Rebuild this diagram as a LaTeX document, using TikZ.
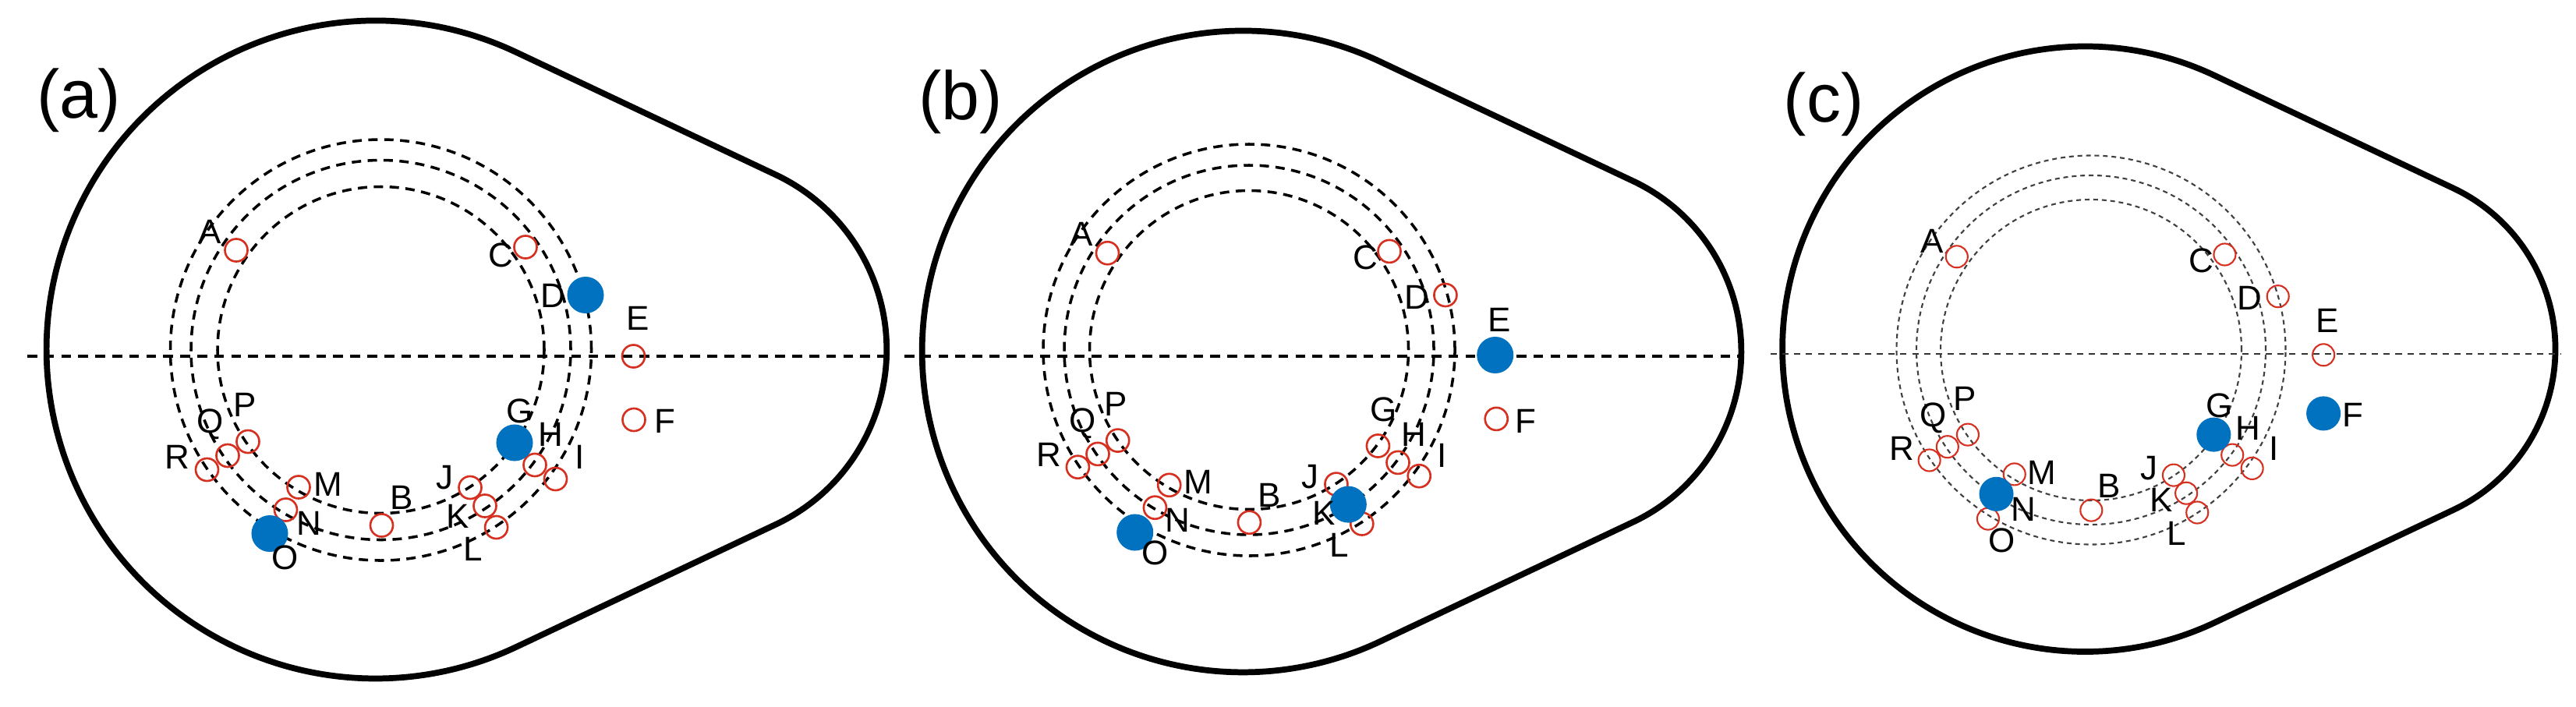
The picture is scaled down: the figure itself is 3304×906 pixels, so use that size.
\documentclass[tikz,border=0pt]{standalone}
\usepackage{fontspec}
\setmainfont{Liberation Sans}
\definecolor{mred}{RGB}{214,48,32}
\definecolor{mblue}{RGB}{0,114,192}
\tikzset{
  camline/.style={line width=2.2pt,black},
  axisA/.style={line width=1.1pt,dash pattern=on 3.6pt off 2.6pt},
  axisC/.style={line width=0.7pt,black!80,dash pattern=on 2.3pt off 2pt},
  ringA/.style={line width=1pt,dash pattern=on 3.4pt off 2.4pt},
  ringC/.style={line width=0.6pt,black!75,dash pattern=on 1.7pt off 1.4pt},
  hollow/.style={circle,draw=mred,line width=0.75pt,minimum size=0.29cm,inner sep=0pt},
  hollowc/.style={circle,draw=mred,line width=0.6pt,minimum size=0.28cm,inner sep=0pt},
  solid/.style={circle,fill=mblue,minimum size=0.47cm,inner sep=0pt},
  solidc/.style={circle,fill=mblue,minimum size=0.44cm,inner sep=0pt},
  lab/.style={inner sep=0pt,font=\fontsize{12.5}{12.5}\selectfont},
  panel/.style={inner sep=0pt,font=\fontsize{25}{25}\selectfont},
}
% cam outline: centre x, centre y (pixels, y downwards), scale
\newcommand{\camshape}[3]{%
  \draw[camline] ({#1+422*#3*cos(64.72)},{-#2+422*#3*sin(64.72)})
    arc[start angle=64.72,end angle=295.28,radius={422*#3}]
    -- ({#1+407.5*#3+248*#3*cos(64.72)},{-#2-248*#3*sin(64.72)})
    arc[start angle=-64.72,end angle=64.72,radius={248*#3}] -- cycle;}
% marker: name, x, y, style, label x, label y, text
\newcommand{\mk}[7]{%
  \node[#4] (#1) at (#2,-#3) {};
  \node[lab] (#1t) at (#5,-#6) {#7};}
\begin{document}
\begin{tikzpicture}[x=0.01cm,y=0.01cm]
\useasboundingbox (0,0) rectangle (3304,-906);
\fill[white] (0,0) rectangle (3304,-906);

% outlines
\camshape{481.7}{448.5}{1}
\camshape{1594.2}{451}{0.975}
\camshape{2674.4}{447.8}{0.92}

% axis lines
\coordinate (axa1) at (35,-456.7);   \coordinate (axa2) at (1138,-456.7);
\coordinate (axb1) at (1160,-457.3); \coordinate (axb2) at (2233,-457.3);
\coordinate (axc1) at (2271,-454);   \coordinate (axc2) at (3285,-454);
\draw[axisA] (axa1) -- (axa2);
\draw[axisA] (axb1) -- (axb2);
\draw[axisC] (axc1) -- (axc2);

% rings
\foreach \r in {270,243.5,209.5} \draw[ringA] (488.5,-449) circle[radius=\r];
\foreach \r in {264,237,204.5} \draw[ringA] (1602,-449) circle[radius=\r];
\foreach \r in {249.5,224,193} \draw[ringC] (2682,-449) circle[radius=\r];

% panel labels
\node[panel] (pa) at (101,-128.6) {(a)};
\node[panel] (pb) at (1232,-131) {(b)};
\node[panel] (pc) at (2339,-134) {(c)};

% panel (a)
\mk{aA}{303}{321}{hollow}{269}{297}{A}
\mk{aC}{674}{317}{hollow}{642}{327}{C}
\mk{aE}{812.5}{457}{hollow}{818}{408}{E}
\mk{aF}{813}{538.5}{hollow}{852.5}{540}{F}
\mk{aH}{686}{596.5}{hollow}{706.5}{557}{H}
\mk{aI}{712.5}{614.5}{hollow}{744}{586.5}{I}
\mk{aJ}{603}{625.5}{hollow}{570}{613}{J}
\mk{aK}{622}{649}{hollow}{587}{662}{K}
\mk{aL}{636.6}{676.5}{hollow}{607}{704.5}{L}
\mk{aB}{489.5}{674}{hollow}{515}{638}{B}
\mk{aM}{383}{625}{hollow}{420.5}{621}{M}
\mk{aN}{366.5}{654}{hollow}{396}{671.5}{N}
\mk{aP}{318}{566.5}{hollow}{314}{519}{P}
\mk{aQ}{292}{584.5}{hollow}{270}{544.5}{Q}
\mk{aR}{265.5}{602.5}{hollow}{227.5}{586.5}{R}
\mk{aD}{751}{378.5}{solid}{709}{379}{D}
\mk{aG}{660}{568}{solid}{667}{527}{G}
\mk{aO}{346}{684.5}{solid}{365.5}{715}{O}

% panel (b)
\mk{bA}{1420.5}{324.7}{hollow}{1387.5}{300.5}{A}
\mk{bC}{1782}{322.4}{hollow}{1751.3}{330.5}{C}
\mk{bD}{1853.9}{378.5}{hollow}{1817.3}{381.3}{D}
\mk{bF}{1919.2}{537.4}{hollow}{1956.6}{540.2}{F}
\mk{bG}{1767.4}{572}{hollow}{1774.7}{525.8}{G}
\mk{bH}{1793}{593.4}{hollow}{1813.6}{557.6}{H}
\mk{bI}{1820.2}{610.7}{hollow}{1849.5}{584.7}{I}
\mk{bJ}{1713.9}{621.1}{hollow}{1680.9}{611.3}{J}
\mk{bL}{1746.8}{672}{hollow}{1717.5}{699.1}{L}
\mk{bB}{1602.4}{670.2}{hollow}{1628}{635.6}{B}
\mk{bM}{1499.7}{622.3}{hollow}{1536.4}{618.2}{M}
\mk{bN}{1481.4}{651.2}{hollow}{1510.7}{667.4}{N}
\mk{bP}{1433.7}{565.1}{hollow}{1431.5}{518.3}{P}
\mk{bQ}{1408}{582.4}{hollow}{1388.2}{543.1}{Q}
\mk{bR}{1382.4}{599.2}{hollow}{1345.7}{583.6}{R}
\mk{bE}{1917.7}{455.5}{solid}{1922.9}{410.2}{E}
\mk{bK}{1729.3}{647.1}{solid}{1697.7}{658.7}{K}
\mk{bO}{1455.7}{683}{solid}{1481.4}{709.5}{O}

% panel (c)
\mk{cA}{2509.8}{329.3}{hollowc}{2478.1}{309.1}{A}
\mk{cC}{2853.4}{326.5}{hollowc}{2823.1}{334}{C}
\mk{cD}{2921.7}{380.2}{hollowc}{2885.1}{382.5}{D}
\mk{cE}{2980.1}{455.3}{hollowc}{2985}{411.4}{E}
\mk{cH}{2863.2}{583.6}{hollowc}{2883}{548.9}{H}
\mk{cI}{2888.6}{600.9}{hollowc}{2916.8}{574.9}{I}
\mk{cJ}{2787.9}{609.6}{hollowc}{2756.2}{600.9}{J}
\mk{cK}{2804.1}{632.7}{hollowc}{2771.7}{641.4}{K}
\mk{cL}{2818.2}{657.5}{hollowc}{2791.4}{684.7}{L}
\mk{cB}{2682.3}{654.6}{hollowc}{2705.5}{622.9}{B}
\mk{cM}{2583.7}{608.4}{hollowc}{2618.9}{606.7}{M}
\mk{cO}{2549.9}{665.6}{hollowc}{2567.5}{693.4}{O}
\mk{cP}{2523.9}{557.6}{hollowc}{2520.4}{511.4}{P}
\mk{cQ}{2497.8}{573.2}{hollowc}{2479.5}{536.2}{Q}
\mk{cR}{2474.6}{590.5}{hollowc}{2439.4}{574.9}{R}
\mk{cF}{2980.1}{530.4}{solidc}{3018.1}{532.7}{F}
\mk{cG}{2839.3}{557.6}{solidc}{2846.3}{520}{G}
\mk{cN}{2560.5}{633.8}{solidc}{2595.7}{652.9}{N}
\end{tikzpicture}
\end{document}
